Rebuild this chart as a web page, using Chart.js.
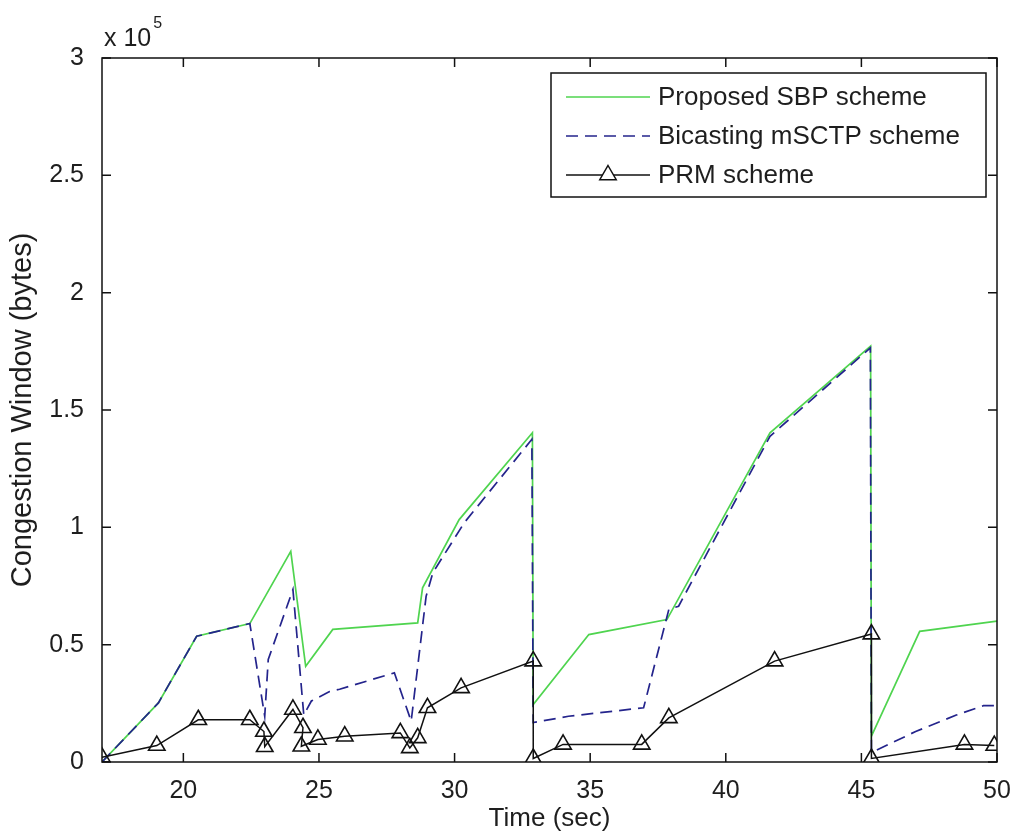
<!DOCTYPE html>
<html>
<head>
<meta charset="utf-8">
<script src="https://cdn.jsdelivr.net/npm/chart.js@4.4.1/dist/chart.umd.min.js"></script>
<style>
  html, body { margin: 0; padding: 0; background: #fff; }
  #wrap { width: 1010px; height: 834px; }
</style>
</head>
<body>
<div id="wrap"><canvas id="cwnd" width="1010" height="834"></canvas></div>
<script>
  // values, congestion window in units of 10^5 bytes
  var sbpTime = [17, 19.08, 20.49, 22.45, 23.96, 24.51, 25.51, 28.64, 28.82, 30.17, 32.87, 32.9, 34.95, 37.83, 41.63, 45.34, 45.37, 47.15, 50];
  var sbpCwnd = [0, 0.252, 0.536, 0.59, 0.898, 0.408, 0.565, 0.593, 0.742, 1.033, 1.403, 0.245, 0.543, 0.607, 1.403, 1.772, 0.11, 0.557, 0.6];

  var bicastTime = [17, 19.08, 20.49, 22.45, 23.0, 23.13, 24.04, 24.44, 24.72, 25.39, 25.76, 27.78, 28.4, 28.95, 29.2, 30.36, 32.85, 32.9, 34.2, 36.97, 37.9, 38.26, 41.63, 45.33, 45.37, 47.0, 48.5, 49.5, 50];
  var bicastCwnd = [0, 0.252, 0.536, 0.59, 0.195, 0.437, 0.735, 0.2, 0.26, 0.3, 0.31, 0.38, 0.174, 0.706, 0.807, 1.02, 1.375, 0.168, 0.195, 0.231, 0.65, 0.664, 1.388, 1.765, 0.04, 0.13, 0.2, 0.24, 0.24];

  var prmTime = [17, 19.02, 20.55, 22.45, 22.97, 23.0, 24.04, 24.41, 24.35, 24.96, 25.95, 28.0, 28.35, 28.64, 29.0, 30.24, 32.9, 32.9, 34.0, 36.9, 37.9, 41.8, 45.37, 45.37, 48.8, 49.9];
  var prmCwnd = [0.02, 0.07, 0.18, 0.18, 0.13, 0.065, 0.224, 0.146, 0.067, 0.096, 0.11, 0.124, 0.06, 0.103, 0.231, 0.316, 0.43, 0.015, 0.075, 0.075, 0.188, 0.43, 0.545, 0.015, 0.075, 0.07];

  var xTicks = [20, 25, 30, 35, 40, 45, 50];
  var yTicks = [0, 0.5, 1, 1.5, 2, 2.5, 3];
  var seriesNames = ['Proposed SBP scheme', 'Bicasting mSCTP scheme', 'PRM scheme'];

  var colors = {
    green: '#4fd44f',
    blue: '#24248c',
    black: '#111111',
    text: '#1e1e1e'
  };
  var fontFamily = "'Liberation Sans', Arial, Helvetica, sans-serif";

  function toPoints(xs, ys) {
    return xs.map(function(x, i) { return { x: x, y: ys[i] }; });
  }

  // MATLAB-like frame: box on all sides with inward ticks
  var framePlugin = {
    id: 'frame',
    afterDatasetsDraw: function(chart) {
      var ctx = chart.ctx, a = chart.chartArea;
      var xs = chart.scales.x, ys = chart.scales.y;
      var len = 9;
      ctx.save();
      ctx.strokeStyle = colors.black;
      ctx.lineWidth = 1.5;
      ctx.strokeRect(a.left, a.top, a.right - a.left, a.bottom - a.top);
      ctx.beginPath();
      xTicks.forEach(function(v) {
        var px = xs.getPixelForValue(v);
        ctx.moveTo(px, a.bottom); ctx.lineTo(px, a.bottom - len);
        ctx.moveTo(px, a.top); ctx.lineTo(px, a.top + len);
      });
      yTicks.forEach(function(v) {
        var py = ys.getPixelForValue(v);
        ctx.moveTo(a.left, py); ctx.lineTo(a.left + len, py);
        ctx.moveTo(a.right, py); ctx.lineTo(a.right - len, py);
      });
      ctx.stroke();

      // exponent label
      ctx.fillStyle = colors.text;
      ctx.textBaseline = 'alphabetic';
      ctx.textAlign = 'left';
      ctx.font = '25px ' + fontFamily;
      ctx.fillText('x 10', a.left + 2, 46);
      var w = ctx.measureText('x 10').width;
      ctx.font = '16px ' + fontFamily;
      ctx.fillText('5', a.left + w + 4, 28);
      ctx.restore();
    },
    afterDraw: function(chart) {
      // legend box, top right
      var ctx = chart.ctx;
      var box = { l: 551, t: 73, r: 986, b: 197 };
      var rows = [97, 136, 175];
      ctx.save();
      ctx.fillStyle = '#fff';
      ctx.fillRect(box.l, box.t, box.r - box.l, box.b - box.t);
      ctx.strokeStyle = colors.black;
      ctx.lineWidth = 1.5;
      ctx.strokeRect(box.l, box.t, box.r - box.l, box.b - box.t);

      chart.data.datasets.forEach(function(ds, i) {
        var y = rows[i];
        ctx.strokeStyle = ds.borderColor;
        ctx.lineWidth = ds.borderWidth;
        ctx.setLineDash(ds.borderDash || []);
        ctx.beginPath();
        ctx.moveTo(566, y); ctx.lineTo(650, y);
        ctx.stroke();
        ctx.setLineDash([]);
        if (ds.pointStyle === 'triangle') {
          var r = ds.pointRadius, cx = 608;
          ctx.beginPath();
          ctx.moveTo(cx, y - r);
          ctx.lineTo(cx + r * 0.866, y + r * 0.5);
          ctx.lineTo(cx - r * 0.866, y + r * 0.5);
          ctx.closePath();
          ctx.fillStyle = '#fff';
          ctx.fill();
          ctx.lineWidth = 1.5;
          ctx.strokeStyle = colors.black;
          ctx.stroke();
        }
        ctx.fillStyle = colors.text;
        ctx.font = '26px ' + fontFamily;
        ctx.textAlign = 'left';
        ctx.textBaseline = 'middle';
        ctx.fillText(seriesNames[i], 658, y + 1);
      });
      ctx.restore();
    }
  };

  var ctx = document.getElementById('cwnd').getContext('2d');
  new Chart(ctx, {
    type: 'line',
    data: {
      datasets: [{
        label: seriesNames[0],
        data: toPoints(sbpTime, sbpCwnd),
        borderColor: colors.green,
        borderWidth: 1.7,
        pointRadius: 0,
        order: 2
      }, {
        label: seriesNames[1],
        data: toPoints(bicastTime, bicastCwnd),
        borderColor: colors.blue,
        borderWidth: 1.7,
        borderDash: [12, 7],
        pointRadius: 0,
        order: 1
      }, {
        label: seriesNames[2],
        data: toPoints(prmTime, prmCwnd),
        borderColor: colors.black,
        borderWidth: 1.5,
        pointStyle: 'triangle',
        pointRadius: 9.5,
        pointBorderWidth: 1.6,
        pointBorderColor: colors.black,
        pointBackgroundColor: 'rgba(255,255,255,0)',
        order: 0
      }]
    },
    options: {
      responsive: false,
      animation: false,
      devicePixelRatio: 1,
      layout: { padding: { top: 58, right: 13, left: 0, bottom: 0 } },
      plugins: {
        legend: { display: false },
        tooltip: { enabled: false }
      },
      elements: { line: { tension: 0 } },
      scales: {
        x: {
          type: 'linear',
          min: 17,
          max: 50,
          afterBuildTicks: function(scale) {
            scale.ticks = xTicks.map(function(v) { return { value: v }; });
          },
          afterFit: function(scale) {
            scale.height = 72;
            scale.paddingLeft = 0;
            scale.paddingRight = 0;
          },
          grid: { display: false },
          border: { display: false },
          ticks: {
            color: colors.text,
            padding: 6,
            maxRotation: 0,
            font: { family: fontFamily, size: 25 },
            callback: function(v) { return String(v); }
          },
          title: {
            display: true,
            text: 'Time (sec)',
            color: colors.text,
            font: { family: fontFamily, size: 26 },
            padding: { top: 0, bottom: 0 }
          }
        },
        y: {
          type: 'linear',
          min: 0,
          max: 3,
          afterBuildTicks: function(scale) {
            scale.ticks = yTicks.map(function(v) { return { value: v }; });
          },
          afterFit: function(scale) {
            scale.width = 102;
            scale.paddingTop = 0;
            scale.paddingBottom = 0;
          },
          grid: { display: false },
          border: { display: false },
          ticks: {
            color: colors.text,
            padding: 10,
            font: { family: fontFamily, size: 25 },
            callback: function(v) { return String(v); }
          },
          title: {
            display: true,
            text: 'Congestion Window (bytes)',
            color: colors.text,
            font: { family: fontFamily, size: 29 },
            padding: { top: 6, bottom: 0 }
          }
        }
      }
    },
    plugins: [framePlugin]
  });
</script>
</body>
</html>
